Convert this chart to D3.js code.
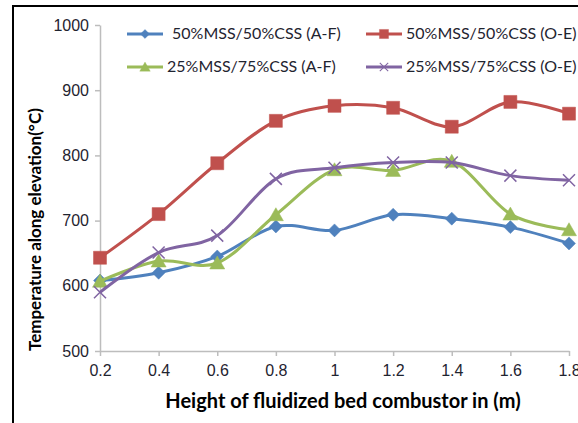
<!DOCTYPE html>
<html>
<head>
<meta charset="utf-8">
<script src="https://cdn.jsdelivr.net/npm/d3@7"></script>
<style>
  body { margin: 0; background: #fff; }
  svg { display: block; font-family: Lato, "Liberation Sans", sans-serif; }
</style>
</head>
<body>
<div id="chart"></div>
<script>
// Data
const heights = [0.2, 0.4, 0.6, 0.8, 1.0, 1.2, 1.4, 1.6, 1.8];
const mss50AF = [608, 620, 645, 691, 685, 709, 703, 690, 665];
const mss50OE = [643, 710, 788, 853, 876, 873, 844, 882, 864];
const mss25AF = [607, 638, 635, 709, 778, 777, 791, 710, 686];
const mss25OE = [590, 651, 677, 764, 781, 789, 789, 769, 762];
const seriesNames = ["50%MSS/50%CSS (A-F)", "50%MSS/50%CSS (O-E)", "25%MSS/75%CSS (A-F)", "25%MSS/75%CSS (O-E)"];
const xTicks = [0.2, 0.4, 0.6, 0.8, 1, 1.2, 1.4, 1.6, 1.8];
const yTicks = [500, 600, 700, 800, 900, 1000];

const width = 578, height = 423;

// marker shapes, Excel style
const diamond = { draw(c) { const r = 6.5; c.moveTo(0, -r); c.lineTo(r, 0); c.lineTo(0, r); c.lineTo(-r, 0); c.closePath(); } };
const square = { draw(c) { const r = 6.5; c.rect(-r, -r, 2 * r, 2 * r); } };
const triangle = { draw(c) { c.moveTo(0, -7); c.lineTo(7.5, 6); c.lineTo(-7.5, 6); c.closePath(); } };
const cross = { draw(c) { const r = 6; c.moveTo(-r, -r); c.lineTo(r, r); c.moveTo(r, -r); c.lineTo(-r, r); } };

const series = [
  { name: seriesNames[0], values: mss50AF, color: "#4F81BD", shape: diamond, fill: true },
  { name: seriesNames[1], values: mss50OE, color: "#C0504D", shape: square, fill: true },
  { name: seriesNames[2], values: mss25AF, color: "#9BBB59", shape: triangle, fill: true },
  { name: seriesNames[3], values: mss25OE, color: "#8064A2", shape: cross, fill: false }
];

const svg = d3.select("#chart")
  .append("svg")
  .attr("width", width)
  .attr("height", height);

// outer frame (cut off at right and bottom)
svg.append("rect")
  .attr("x", 13).attr("y", 6)
  .attr("width", 700).attr("height", 600)
  .attr("fill", "none")
  .attr("stroke", "#000")
  .attr("stroke-width", 2);

const x = d3.scaleLinear().domain([0.2, 1.8]).range([100, 569]);
const y = d3.scaleLinear().domain([500, 1000]).range([351, 25]);

// y axis
const yAxis = svg.append("g")
  .attr("transform", "translate(100,0)")
  .call(d3.axisLeft(y).tickValues(yTicks).tickFormat(d3.format("d")).tickSize(5).tickPadding(6).tickSizeOuter(0));
yAxis.selectAll("path, line").attr("stroke", "#bdbdbd").attr("stroke-width", 1.5);
yAxis.selectAll("text").attr("fill", "#1f2430").style("font-size", "16px");

// x axis
const xAxis = svg.append("g")
  .attr("transform", "translate(0,351)")
  .call(d3.axisBottom(x).tickValues(xTicks).tickFormat(d3.format("")).tickSize(5).tickPadding(9).tickSizeOuter(0));
xAxis.selectAll("path, line").attr("stroke", "#bdbdbd").attr("stroke-width", 1.5);
xAxis.selectAll("text").attr("fill", "#1f2430").style("font-size", "16px");

// titles
svg.append("text")
  .attr("x", 343).attr("y", 408)
  .attr("text-anchor", "middle")
  .style("font-size", "20px").style("font-weight", "bold")
  .text("Height of fluidized bed combustor in (m)");

svg.append("text")
  .attr("transform", "translate(41,351) rotate(-90)")
  .attr("text-anchor", "start")
  .style("font-size", "17px").style("font-weight", "bold")
  .text("Temperature along elevation(°C)");

// lines
const line = d3.line()
  .x(d => x(d[0]))
  .y(d => y(d[1]))
  .curve(d3.curveCardinal.tension(0));

series.forEach(s => {
  const pts = heights.map((h, i) => [h, s.values[i]]);
  svg.append("path")
    .datum(pts)
    .attr("d", line)
    .attr("fill", "none")
    .attr("stroke", s.color)
    .attr("stroke-width", 3);

  svg.selectAll(null)
    .data(pts)
    .enter()
    .append("path")
    .attr("d", d3.symbol().type(s.shape))
    .attr("transform", d => "translate(" + x(d[0]) + "," + y(d[1]) + ")")
    .attr("fill", s.fill ? s.color : "none")
    .attr("stroke", s.color)
    .attr("stroke-width", s.fill ? 0.5 : 1.5);
});

// legend
const legendPos = [[127, 34], [366, 34], [127, 67], [366, 67]];
series.forEach((s, i) => {
  const g = svg.append("g").attr("transform", "translate(" + legendPos[i][0] + "," + legendPos[i][1] + ")");
  g.append("line")
    .attr("x1", 0).attr("x2", 36)
    .attr("stroke", s.color).attr("stroke-width", 3);
  g.append("path")
    .attr("d", d3.symbol().type(s.shape))
    .attr("transform", "translate(18,0) scale(0.7)")
    .attr("fill", s.fill ? s.color : "none")
    .attr("stroke", s.color)
    .attr("stroke-width", s.fill ? 0.5 : 1.5);
  g.append("text")
    .attr("x", i === 0 ? 45 : 40)
    .attr("y", 5)
    .attr("fill", "#1f2430")
    .style("font-size", "16px")
    .text(s.name);
});
</script>
</body>
</html>
